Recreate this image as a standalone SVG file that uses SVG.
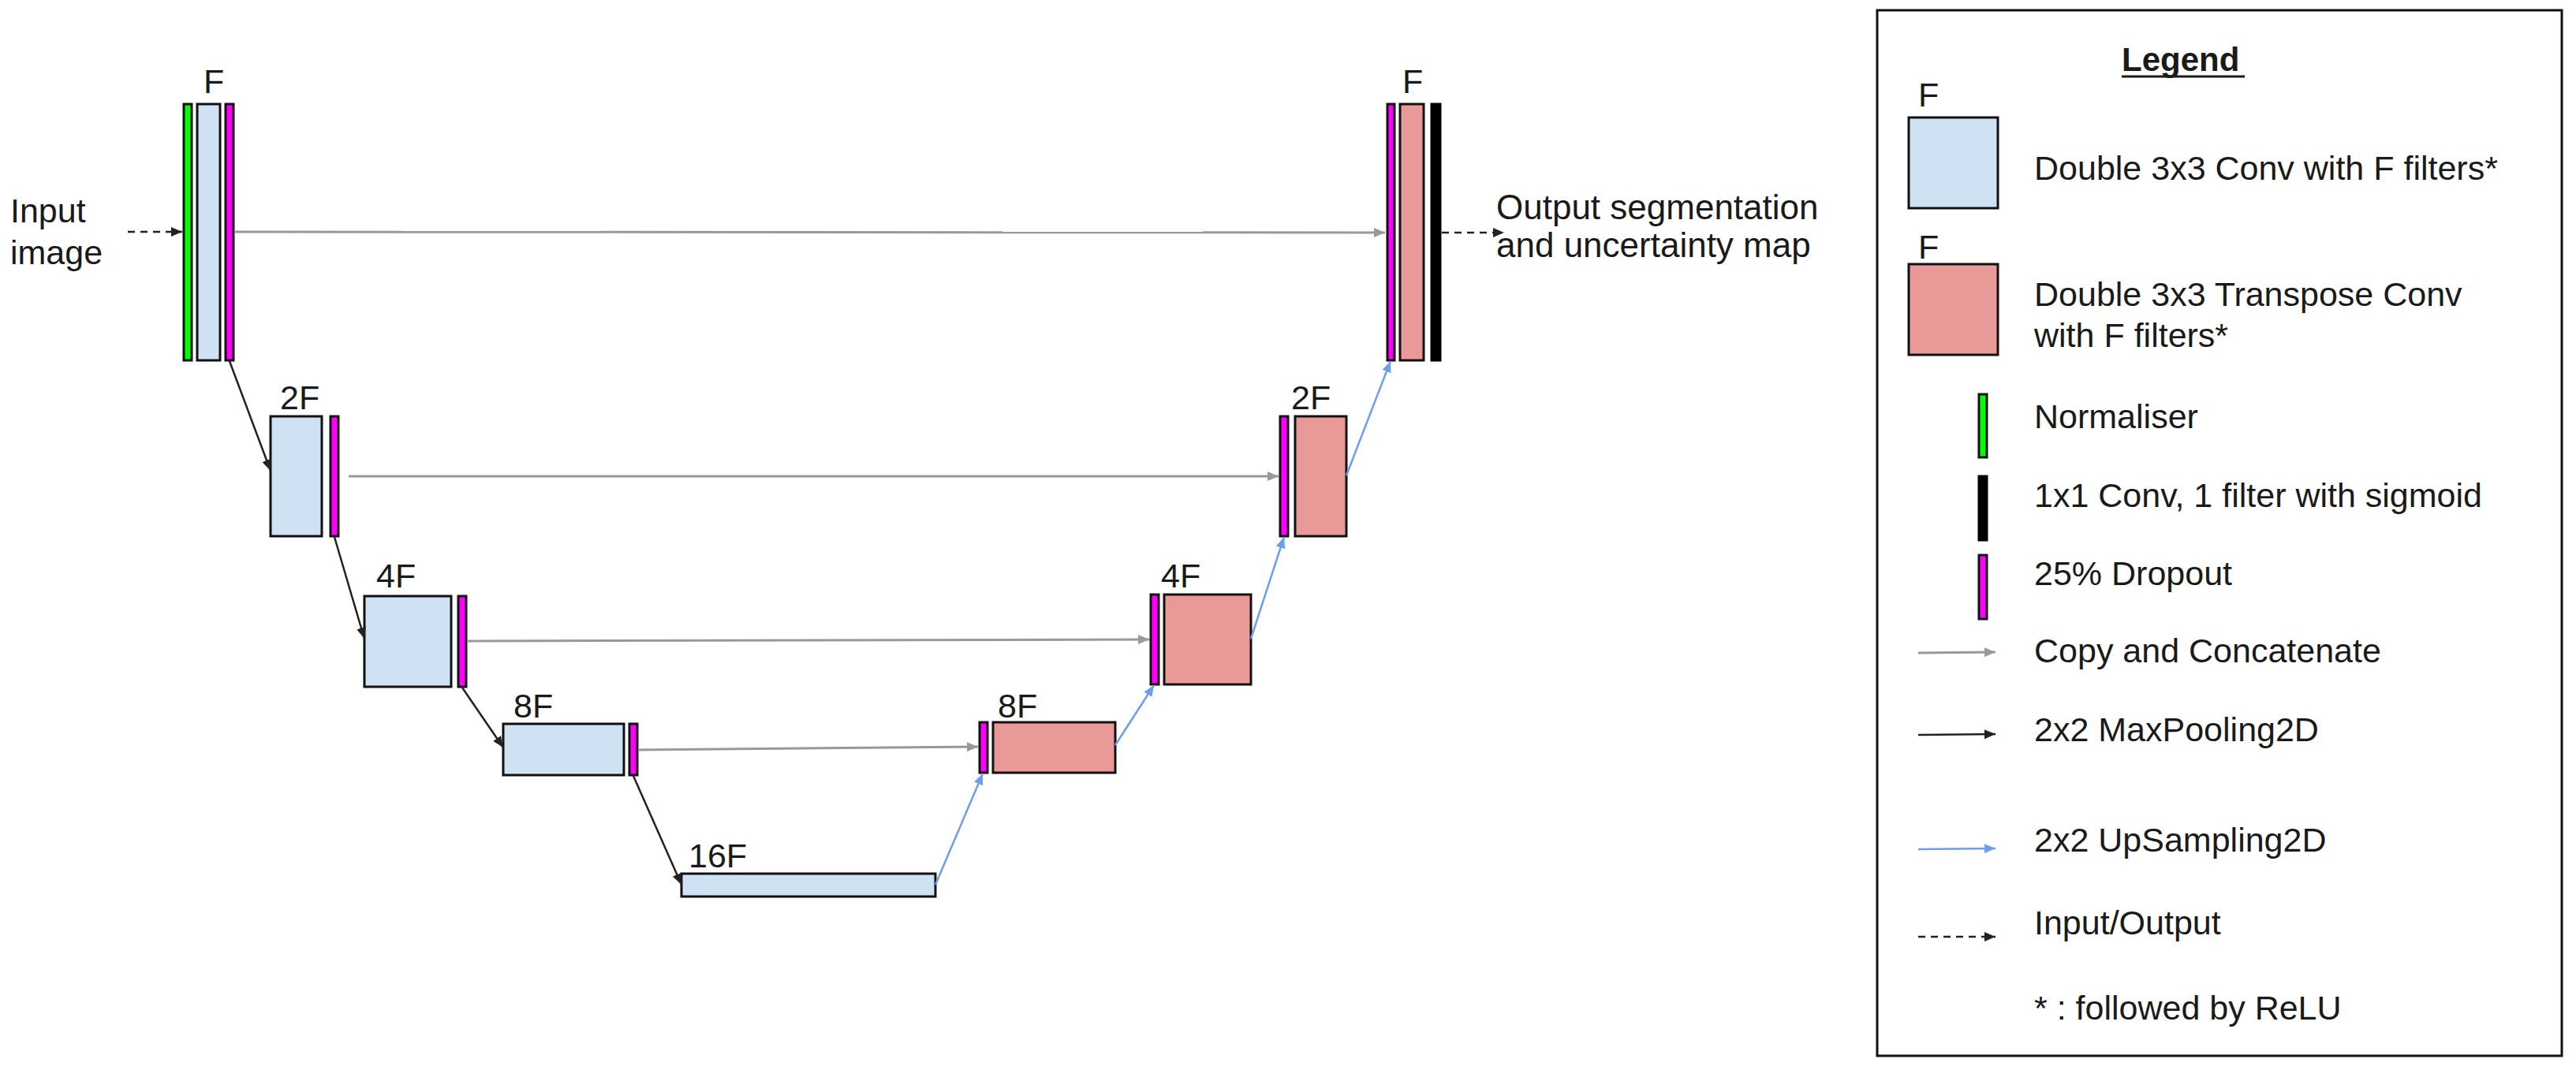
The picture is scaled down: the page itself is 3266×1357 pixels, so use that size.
<svg xmlns="http://www.w3.org/2000/svg" width="3266" height="1357" viewBox="0 0 3266 1357">
<style>
text{font-family:"Liberation Sans",Arial,sans-serif;font-size:43px;fill:#1a1a1a}
.bl{fill:#cfe2f3;stroke:#111;stroke-width:3}
.pk{fill:#ea9999;stroke:#111;stroke-width:3}
.mg{fill:#ff00ff;stroke:#111;stroke-width:3}
.gr{fill:#00ff00;stroke:#111;stroke-width:3}
.bk{fill:#000;stroke:#000;stroke-width:3}
.cp{stroke:#999;stroke-width:3;fill:none}
.mp{stroke:#222;stroke-width:2.5;fill:none}
.up{stroke:#6d9eeb;stroke-width:2.5;fill:none}
.io{stroke:#222;stroke-width:2.5;fill:none;stroke-dasharray:9 7}
</style>
<defs>
<marker id="aGray" markerUnits="userSpaceOnUse" markerWidth="16" markerHeight="14" refX="14" refY="7" orient="auto"><path d="M0,1 L14,7 L0,13 Z" fill="#999"/></marker>
<marker id="aBlack" markerUnits="userSpaceOnUse" markerWidth="16" markerHeight="14" refX="14" refY="7" orient="auto"><path d="M0,1 L14,7 L0,13 Z" fill="#222"/></marker>
<marker id="aBlue" markerUnits="userSpaceOnUse" markerWidth="16" markerHeight="14" refX="14" refY="7" orient="auto"><path d="M0,1 L14,7 L0,13 Z" fill="#6d9eeb"/></marker>
</defs>
<rect width="3266" height="1357" fill="#fff"/>

<g id="input-label"><text x="13" y="282">Input</text><text x="13" y="335">image</text></g>
<g id="output-label"><text x="1897" y="278" style="font-size:44px">Output segmentation</text><text x="1897" y="326" style="font-size:44px">and uncertainty map</text></g>

<g id="enc1">
<text x="258" y="118">F</text>
<rect class="gr" x="233" y="132" width="10" height="325"/>
<rect class="bl" x="250" y="132" width="29" height="325"/>
<rect class="mg" x="286" y="132" width="10" height="325"/>
</g>
<g id="enc2">
<text x="355" y="519">2F</text>
<rect class="bl" x="343" y="528" width="65" height="152"/>
<rect class="mg" x="419" y="528" width="10" height="152"/>
</g>
<g id="enc3">
<text x="477" y="745">4F</text>
<rect class="bl" x="462" y="756" width="110" height="115"/>
<rect class="mg" x="581" y="756" width="10" height="115"/>
</g>
<g id="enc4">
<text x="651" y="910">8F</text>
<rect class="bl" x="638" y="918" width="153" height="65"/>
<rect class="mg" x="798" y="918" width="10" height="65"/>
</g>
<g id="bottleneck">
<text x="873" y="1100">16F</text>
<rect class="bl" x="864" y="1108" width="322" height="29"/>
</g>
<g id="dec4">
<text x="1265" y="910">8F</text>
<rect class="mg" x="1242" y="916" width="10" height="64"/>
<rect class="pk" x="1259" y="916" width="155" height="64"/>
</g>
<g id="dec3">
<text x="1472" y="745">4F</text>
<rect class="mg" x="1459" y="754" width="10" height="114"/>
<rect class="pk" x="1476" y="754" width="110" height="114"/>
</g>
<g id="dec2">
<text x="1637" y="519">2F</text>
<rect class="mg" x="1623" y="528" width="10" height="152"/>
<rect class="pk" x="1642" y="528" width="65" height="152"/>
</g>
<g id="dec1">
<text x="1778" y="118">F</text>
<rect class="mg" x="1759" y="132" width="9" height="325"/>
<rect class="pk" x="1775" y="132" width="30" height="325"/>
<rect class="bk" x="1815" y="132" width="11" height="325"/>
</g>

<g id="connectors">
<line class="io" x1="162" y1="294" x2="231" y2="294" marker-end="url(#aBlack)"/>
<line class="io" x1="1828" y1="295" x2="1907" y2="295" marker-end="url(#aBlack)"/>
<line class="cp" x1="297" y1="294" x2="1756" y2="295" marker-end="url(#aGray)"/>
<line class="cp" x1="442" y1="604" x2="1621" y2="604" marker-end="url(#aGray)"/>
<line class="cp" x1="592" y1="813" x2="1457" y2="811" marker-end="url(#aGray)"/>
<line class="cp" x1="809" y1="951" x2="1240" y2="947" marker-end="url(#aGray)"/>
<line class="mp" x1="291" y1="458" x2="343" y2="597" marker-end="url(#aBlack)"/>
<line class="mp" x1="424" y1="681" x2="462" y2="810" marker-end="url(#aBlack)"/>
<line class="mp" x1="586" y1="872" x2="638" y2="948" marker-end="url(#aBlack)"/>
<line class="mp" x1="803" y1="984" x2="864" y2="1122" marker-end="url(#aBlack)"/>
<line class="up" x1="1186" y1="1122" x2="1246" y2="981" marker-end="url(#aBlue)"/>
<line class="up" x1="1414" y1="945" x2="1463" y2="869" marker-end="url(#aBlue)"/>
<line class="up" x1="1586" y1="810" x2="1628" y2="681" marker-end="url(#aBlue)"/>
<line class="up" x1="1707" y1="603" x2="1763" y2="458" marker-end="url(#aBlue)"/>
</g>

<g id="legend">
<rect x="2380" y="13" width="868" height="1326" fill="#fff" stroke="#111" stroke-width="3"/>
<text x="2690" y="90" style="font-weight:bold;font-size:42px">Legend</text>
<line x1="2690" y1="97" x2="2846" y2="97" stroke="#1a1a1a" stroke-width="3"/>
<text x="2432" y="135">F</text>
<rect class="bl" x="2420" y="149" width="113" height="115"/>
<text x="2579" y="228">Double 3x3 Conv with F filters*</text>
<text x="2432" y="328">F</text>
<rect class="pk" x="2420" y="335" width="113" height="115"/>
<text x="2579" y="388">Double 3x3 Transpose Conv</text>
<text x="2579" y="440">with F filters*</text>
<rect class="gr" x="2509" y="500" width="10" height="80"/>
<text x="2579" y="543">Normaliser</text>
<rect class="bk" x="2509" y="604" width="10" height="81"/>
<text x="2579" y="643">1x1 Conv, 1 filter with sigmoid</text>
<rect class="mg" x="2509" y="704" width="10" height="81"/>
<text x="2579" y="742">25% Dropout</text>
<line class="cp" x1="2432" y1="828" x2="2530" y2="827" marker-end="url(#aGray)"/>
<text x="2579" y="840">Copy and Concatenate</text>
<line class="mp" x1="2432" y1="932" x2="2530" y2="931" marker-end="url(#aBlack)"/>
<text x="2579" y="940">2x2 MaxPooling2D</text>
<line class="up" x1="2432" y1="1077" x2="2530" y2="1076" marker-end="url(#aBlue)"/>
<text x="2579" y="1080">2x2 UpSampling2D</text>
<line class="io" x1="2432" y1="1188" x2="2530" y2="1188" marker-end="url(#aBlack)"/>
<text x="2579" y="1185">Input/Output</text>
<text x="2579" y="1293">* : followed by ReLU</text>
</g>
</svg>
